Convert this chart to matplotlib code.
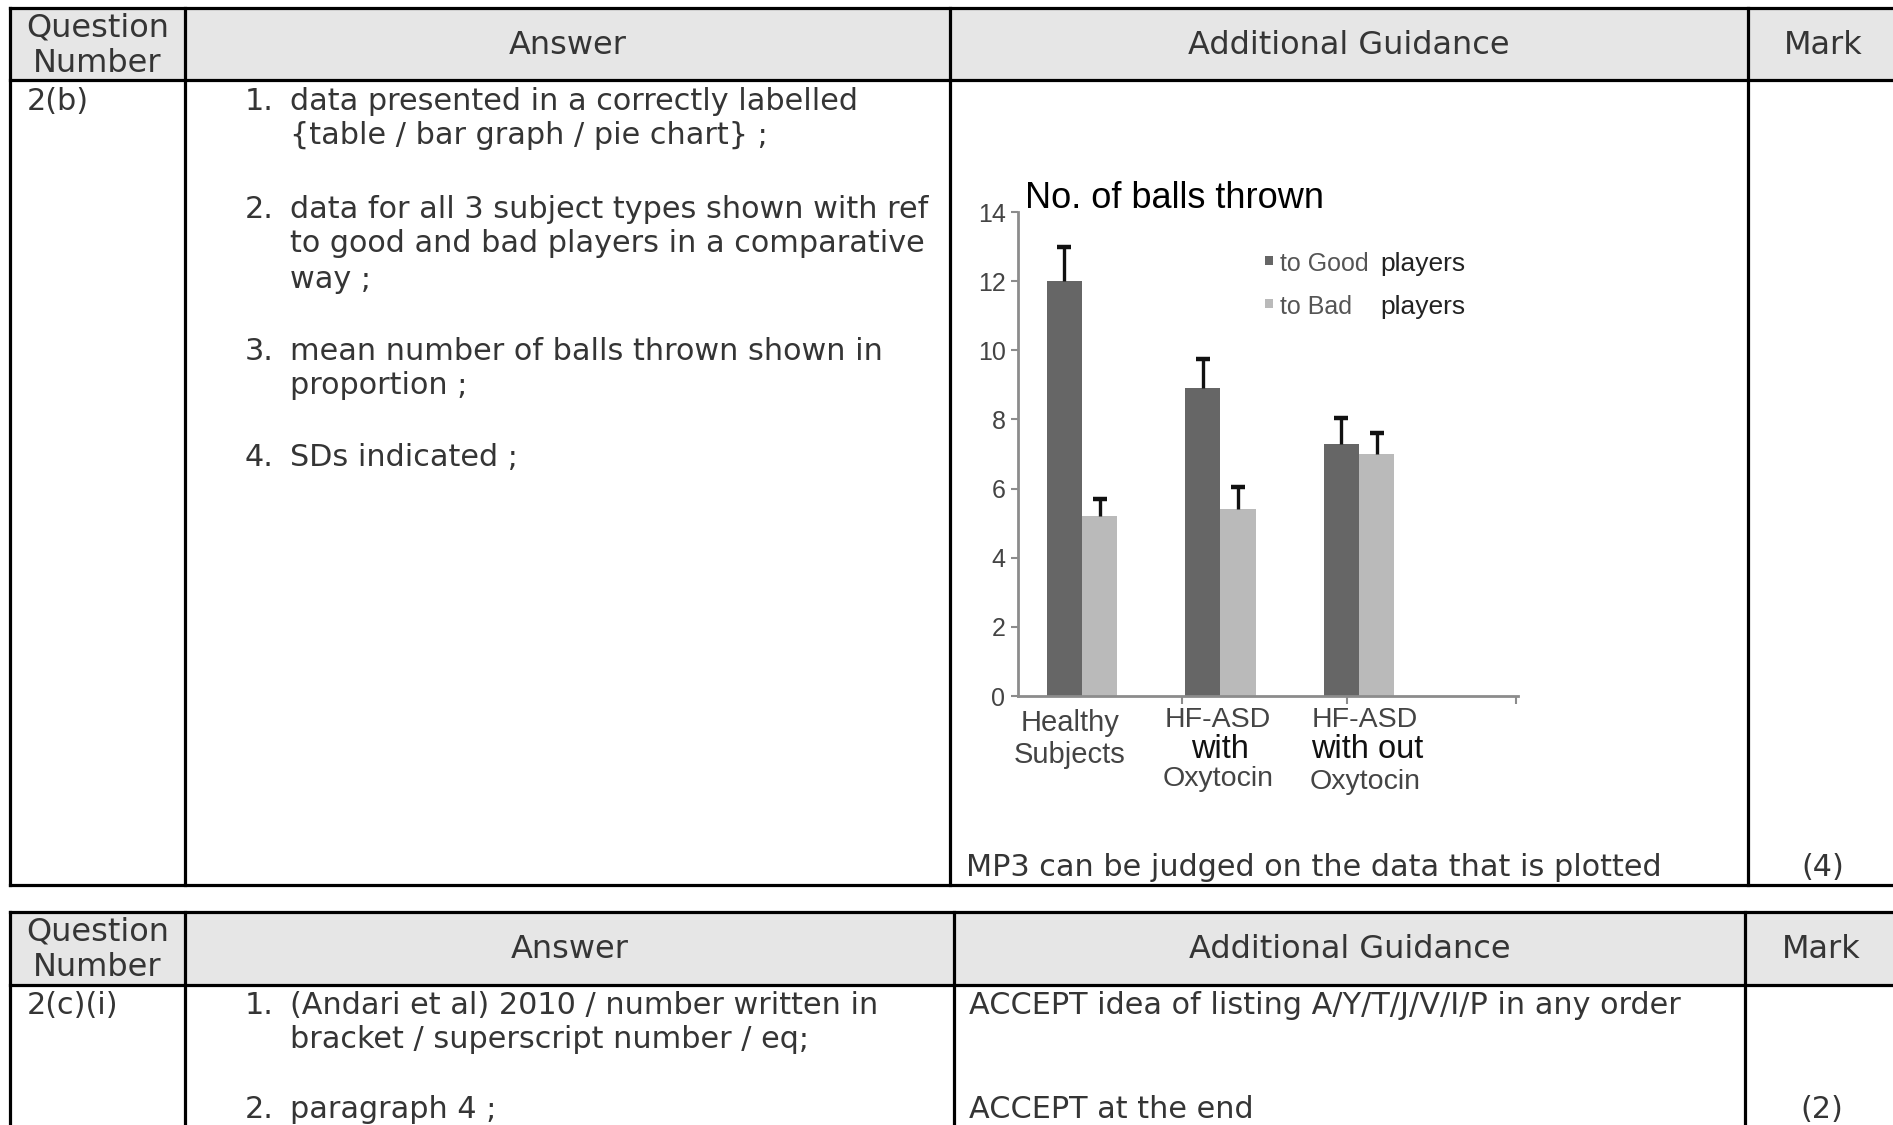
import matplotlib
matplotlib.use('Agg')
import matplotlib.pyplot as plt
from matplotlib.patches import Rectangle
import numpy as np

W, H = 1893, 1125

# ---------------- chart data ----------------
group_line1 = ['Healthy', 'HF-ASD', 'HF-ASD']
group_line2 = ['Subjects', 'with', 'with out']
group_line3 = ['', 'Oxytocin', 'Oxytocin']
good_mean = [12.0, 8.9, 7.3]
good_sd = [1.0, 0.85, 0.75]
bad_mean = [5.2, 5.4, 7.0]
bad_sd = [0.5, 0.65, 0.6]
yticks = [0, 2, 4, 6, 8, 10, 12, 14]
legend_labels = ['to Good', 'to Bad']
chart_title = 'No. of balls thrown'

# ---------------- table text ----------------
header_cols = ['Question\nNumber', 'Answer', 'Additional Guidance', 'Mark']
t1_question = '2(b)'
t1_answers = [
    ['data presented in a correctly labelled', '{table / bar graph / pie chart} ;'],
    ['data for all 3 subject types shown with ref', 'to good and bad players in a comparative', 'way ;'],
    ['mean number of balls thrown shown in', 'proportion ;'],
    ['SDs indicated ;'],
]
t1_guidance = 'MP3 can be judged on the data that is plotted'
t1_mark = '(4)'
t2_question = '2(c)(i)'
t2_answers = [
    ['(Andari et al) 2010 / number written in', 'bracket / superscript number / eq;'],
    ['paragraph 4 ;'],
]
t2_guidance = ['ACCEPT idea of listing A/Y/T/J/V/I/P in any order', 'ACCEPT at the end']
t2_mark = '(2)'

fig = plt.figure(figsize=(W / 100, H / 100), dpi=100)
fig.patch.set_facecolor('white')
tab = fig.add_axes([0, 0, 1, 1])
tab.set_xlim(0, W)
tab.set_ylim(H, 0)
tab.axis('off')

TF = dict(family='DejaVu Sans', color='#353535')
FS = 21.8
FH = 23
LW = 2.3
HDR = '#e6e6e6'


def draw_table(top, hdr_bot, bot, cols, left=10, right=1898):
    tab.add_patch(Rectangle((left, top), right - left, hdr_bot - top, facecolor=HDR, edgecolor='none', zorder=0))
    for y in (top, hdr_bot, bot):
        tab.plot([left, right], [y, y], color='black', lw=LW, solid_capstyle='projecting', zorder=2)
    for xx in [left] + cols + [right]:
        tab.plot([xx, xx], [top, bot], color='black', lw=LW, solid_capstyle='projecting', zorder=2)
    xs = [left] + cols + [right]
    hy = (top + hdr_bot) / 2 + 1
    tab.text((xs[0] + xs[1]) / 2, hy - 17, 'Question', ha='center', va='center', fontsize=FH, **TF)
    tab.text((xs[0] + xs[1]) / 2, hy + 18, 'Number', ha='center', va='center', fontsize=FH, **TF)
    for i, lbl in enumerate(header_cols[1:], start=1):
        tab.text((xs[i] + xs[i + 1]) / 2, hy, lbl, ha='center', va='center', fontsize=FH, **TF)
    return xs


# ---- table 1 ----
xs1 = draw_table(8, 80, 885, [185, 950, 1748])
tab.text(27, 101, t1_question, ha='left', va='center', fontsize=FS, **TF)
line_y = [[101, 136], [209, 244, 279], [351, 386], [458]]
for k, (lines, ys) in enumerate(zip(t1_answers, line_y)):
    tab.text(245, ys[0], f'{k + 1}.', ha='left', va='center', fontsize=FS, **TF)
    for txt, y in zip(lines, ys):
        tab.text(290, y, txt, ha='left', va='center', fontsize=FS, **TF)
tab.text(966, 868, t1_guidance, ha='left', va='center', fontsize=FS, **TF)
tab.text((xs1[3] + xs1[4]) / 2, 868, t1_mark, ha='center', va='center', fontsize=FS, **TF)

# ---- table 2 ----
xs2 = draw_table(912, 985, 1135, [185, 954, 1745])
tab.text(27, 1005, t2_question, ha='left', va='center', fontsize=FS, **TF)
line_y2 = [[1005, 1040], [1109]]
for k, (lines, ys) in enumerate(zip(t2_answers, line_y2)):
    tab.text(245, ys[0], f'{k + 1}.', ha='left', va='center', fontsize=FS, **TF)
    for txt, y in zip(lines, ys):
        tab.text(290, y, txt, ha='left', va='center', fontsize=FS, **TF)
tab.text(969, 1005, t2_guidance[0], ha='left', va='center', fontsize=FS, **TF)
tab.text(969, 1109, t2_guidance[1], ha='left', va='center', fontsize=FS, **TF)
tab.text((xs2[3] + xs2[4]) / 2, 1109, t2_mark, ha='center', va='center', fontsize=FS, **TF)

# ---------------- chart ----------------
ax_left, ax_right, y0_px, y14_px = 1018, 1518, 696, 212
ax = fig.add_axes([ax_left / W, 1 - y0_px / H, (ax_right - ax_left) / W, (y0_px - y14_px) / H])
ax.patch.set_alpha(0)
x = np.arange(len(good_mean))
bw = 0.255
good_x = x - bw / 2
bad_x = x + bw / 2
ax.bar(good_x, good_mean, bw, color='#666666', zorder=2)
ax.bar(bad_x, bad_mean, bw, color='#bababa', zorder=2)
for xs_, m_, s_ in ((good_x, good_mean, good_sd), (bad_x, bad_mean, bad_sd)):
    top = np.array(m_) + np.array(s_)
    ax.vlines(xs_, m_, top, color='#111111', lw=2.4, zorder=3)
    ax.plot(xs_, top, linestyle='none', marker='_', markersize=10, mew=3.2, color='#111111', zorder=3)
ax.set_ylim(0, 14)
ax.set_xlim(-0.462, 3.148)
for s in ('top', 'right'):
    ax.spines[s].set_visible(False)
for s in ('left', 'bottom'):
    ax.spines[s].set_color('#8c8c8c')
    ax.spines[s].set_linewidth(2.0)
ax.set_yticks(yticks)
ax.set_yticklabels([str(v) for v in yticks], family='Liberation Sans', fontsize=18, color='#444444')
ax.tick_params(axis='y', direction='out', length=5, width=1.5, color='#8c8c8c', pad=4)
ax.set_xticks([0.72, 1.91, 3.13])
ax.set_xticklabels([])
ax.tick_params(axis='x', direction='out', length=6, width=1.5, color='#8c8c8c')

CF = dict(family='Liberation Sans')
tab.text(1025, 208, chart_title, ha='left', va='baseline', fontsize=26, color='black', **CF)

# legend
for (lbl, col, y) in zip(legend_labels, ['#666666', '#bababa'], [264, 307]):
    tab.add_patch(Rectangle((1265, y - 8), 8, 9, facecolor=col, edgecolor='none'))
    tab.text(1280, y, lbl, ha='left', va='center', fontsize=18, color='#555555', **CF)
    tab.text(1380, y, 'players', ha='left', va='center', fontsize=19, color='#222222', **CF)

# category labels
lab_x = [1070, 1218, 1365]
for i in range(3):
    if i == 0:
        tab.text(lab_x[i], 723, group_line1[i], ha='center', va='center', fontsize=21, color='#444444', **CF)
        tab.text(lab_x[i], 755, group_line2[i], ha='center', va='center', fontsize=21, color='#444444', **CF)
    else:
        tab.text(lab_x[i], 720, group_line1[i], ha='center', va='center', fontsize=20.5, color='#444444', **CF)
        tab.text(lab_x[i] + 2, 750, group_line2[i], ha='center', va='center', fontsize=23.5, color='#111111', **CF)
        tab.text(lab_x[i], 779 + (3 if i == 2 else 0), group_line3[i], ha='center', va='center',
                 fontsize=20.5, color='#444444', **CF)

fig.savefig('out.png', dpi=100, facecolor='white')
